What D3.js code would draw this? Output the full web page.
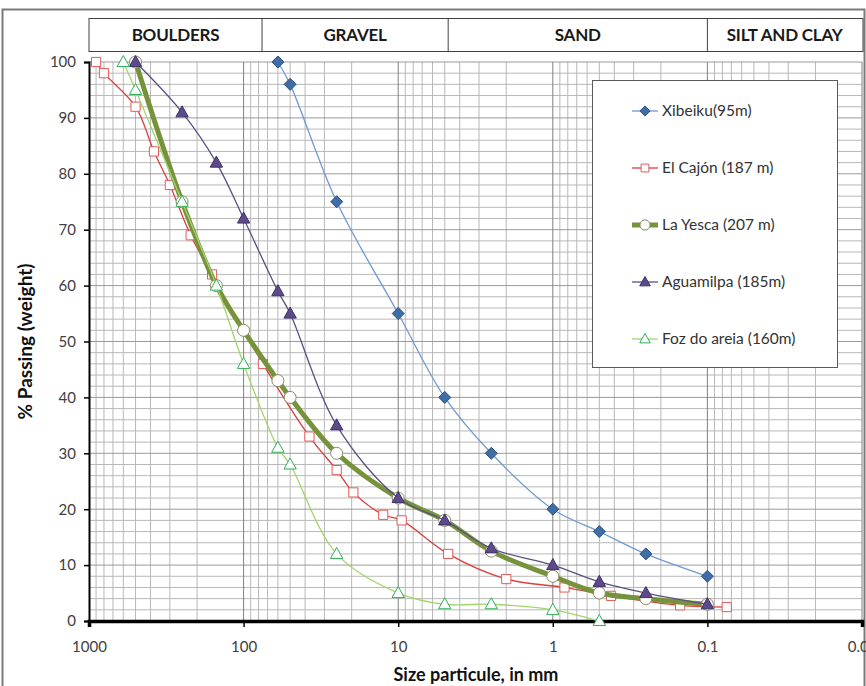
<!DOCTYPE html>
<html>
<head>
<meta charset="utf-8">
<script src="https://cdn.jsdelivr.net/npm/d3@7"></script>
<style>
body { margin:0; background:#fff; }
text { font-family: Lato, "Open Sans", sans-serif; }
</style>
</head>
<body>
<svg id="chart" width="866" height="686"></svg>
<script>
// grain size curves - % passing vs particle size (mm)
var xibeikuSize = [60, 50, 25, 10, 5, 2.5, 1, 0.5, 0.25, 0.1]
var xibeikuPass = [100, 96, 75, 55, 40, 30, 20, 16, 12, 8]

var cajonSize = [900, 800, 500, 380, 300, 220, 160, 75, 37.5, 25, 19.5, 12.5, 9.5, 4.75, 2, 0.84, 0.42, 0.15, 0.075]
var cajonPass = [100, 98, 92, 84, 78, 69, 62, 46, 33, 27, 23, 19, 18, 12, 7.5, 6, 4.5, 2.8, 2.5]

var yescaSize = [500, 250, 150, 100, 60, 50, 25, 10, 5, 2.5, 1, 0.5, 0.25, 0.1]
var yescaPass = [100, 75, 60, 52, 43, 40, 30, 22, 18, 12.5, 8, 5, 4, 3]

var aguaSize = [500, 250, 150, 100, 60, 50, 25, 10, 5, 2.5, 1, 0.5, 0.25, 0.1]
var aguaPass = [100, 91, 82, 72, 59, 55, 35, 22, 18, 13, 10, 7, 5, 3]

var fozSize = [600, 500, 250, 150, 100, 60, 50, 25, 10, 5, 2.5, 1, 0.5]
var fozPass = [100, 95, 75, 60, 46, 31, 28, 12, 5, 3, 3, 2, 0]

var seriesNames = ["Xibeiku(95m)", "El Cajón (187 m)", "La Yesca (207 m)", "Aguamilpa (185m)", "Foz do areia (160m)"]

var zoneNames = ["BOULDERS", "GRAVEL", "SAND", "SILT AND CLAY"]
var zoneBounds = [1000, 76, 4.75, 0.1, 0.01]

var xTickVals = [1000, 100, 10, 1, 0.1, 0.01]
var xTickLabels = ["1000", "100", "10", "1", "0.1", "0.01"]
var yTickVals = [0, 10, 20, 30, 40, 50, 60, 70, 80, 90, 100]

var svg = d3.select("#chart")
var margin = {top:62, left:89, bottom:65, right:4}
var width = 866, height = 686

var xScale = d3.scaleLog().domain([1000, 0.01]).range([margin.left, width - margin.right])
var yScale = d3.scaleLinear().domain([0, 100]).range([height - margin.bottom, margin.top])

function zip(a, b){
  var out = []
  for(var i=0;i<a.length;i++) out.push({size:a[i], pass:b[i]})
  return out
}

var series = [
  {name:seriesNames[0], data:zip(xibeikuSize, xibeikuPass), line:"#6f9bd1", lw:1.3, marker:"diamond", fill:"#3f6ea6", stroke:"#2d4f7a", r:6},
  {name:seriesNames[1], data:zip(cajonSize, cajonPass), line:"#d9403d", lw:1.3, marker:"square", fill:"#fff", stroke:"#e05a58", r:4.6},
  {name:seriesNames[2], data:zip(yescaSize, yescaPass), line:"#76933c", lw:5, marker:"circle", fill:"#fff", stroke:"#8a8a6a", r:6},
  {name:seriesNames[3], data:zip(aguaSize, aguaPass), line:"#5b4f80", lw:1.3, marker:"triangle", fill:"#5d4a8a", stroke:"#3e3166", r:6.5},
  {name:seriesNames[4], data:zip(fozSize, fozPass), line:"#a3d46c", lw:1.3, marker:"triangle", fill:"#fff", stroke:"#2fae55", r:6.5}
]

// outer frame
svg.append("rect")
  .attr("x", 2.5).attr("y", 9.5).attr("width", 862).attr("height", 690)
  .attr("fill", "none").attr("stroke", "#7a7a7a").attr("stroke-width", 2)

// grid
var g = svg.append("g")
var minorX = xScale.ticks().filter(function(d){ return xTickVals.indexOf(d) < 0 })
g.selectAll(".vminor").data(minorX).enter().append("line")
  .attr("x1", function(d){ return xScale(d) }).attr("x2", function(d){ return xScale(d) })
  .attr("y1", yScale(100)).attr("y2", yScale(0))
  .attr("stroke", "#b8b8b8").attr("stroke-width", 1)
var minorY = d3.range(2, 100, 2).filter(function(d){ return d % 10 != 0 })
g.selectAll(".hminor").data(minorY).enter().append("line")
  .attr("y1", function(d){ return yScale(d) }).attr("y2", function(d){ return yScale(d) })
  .attr("x1", xScale(1000)).attr("x2", xScale(0.01))
  .attr("stroke", "#b8b8b8").attr("stroke-width", 1)
g.selectAll(".hmajor").data(yTickVals.slice(1)).enter().append("line")
  .attr("y1", function(d){ return yScale(d) }).attr("y2", function(d){ return yScale(d) })
  .attr("x1", xScale(1000)).attr("x2", xScale(0.01))
  .attr("stroke", "#9a9a9a").attr("stroke-width", 1)
g.selectAll(".vmajor").data(xTickVals.slice(1)).enter().append("line")
  .attr("x1", function(d){ return xScale(d) }).attr("x2", function(d){ return xScale(d) })
  .attr("y1", yScale(100)).attr("y2", yScale(0))
  .attr("stroke", "#808080").attr("stroke-width", 1)

// header zones
var hdr = svg.append("g")
hdr.append("rect")
  .attr("x", xScale(1000)).attr("y", 18.5)
  .attr("width", xScale(0.01) - xScale(1000) + 1).attr("height", 33)
  .attr("fill", "#fff").attr("stroke", "#404040").attr("stroke-width", 1)
for(var i=0;i<zoneNames.length;i++){
  var x0 = xScale(zoneBounds[i]), x1 = xScale(zoneBounds[i+1])
  if(i>0){
    hdr.append("line").attr("x1", x0).attr("x2", x0).attr("y1", 18.5).attr("y2", 51.5)
      .attr("stroke", "#404040").attr("stroke-width", 1)
  }
  hdr.append("text")
    .attr("x", (x0+x1)/2).attr("y", 41)
    .attr("text-anchor", "middle")
    .attr("font-size", 17).attr("font-weight", "bold")
    .attr("letter-spacing", "-0.2")
    .attr("fill", "#1a1a1a")
    .text(zoneNames[i])
}

// axes
var yAxis = d3.axisLeft(yScale).tickValues(yTickVals).tickSize(5).tickPadding(8)
svg.append("g")
  .attr("transform", "translate(" + margin.left + ",0)")
  .call(yAxis)
  .call(function(s){
    s.select(".domain").attr("stroke", "#000").attr("stroke-width", 2)
    s.selectAll(".tick line").attr("stroke", "#000").attr("stroke-width", 1.5)
    s.selectAll(".tick text").attr("font-size", 15).attr("fill", "#404040").attr("font-family", "Lato, sans-serif")
  })

var xAxis = d3.axisBottom(xScale).tickValues(xTickVals)
  .tickFormat(function(d, i){ return xTickLabels[i] }).tickSize(6).tickPadding(14)
svg.append("g")
  .attr("transform", "translate(0," + (height - margin.bottom) + ")")
  .call(xAxis)
  .call(function(s){
    s.select(".domain").attr("stroke", "#000").attr("stroke-width", 3.5)
    s.selectAll(".tick line").attr("stroke", "#000").attr("stroke-width", 1.5)
    s.selectAll(".tick text").attr("font-size", 15).attr("fill", "#404040").attr("font-family", "Lato, sans-serif")
  })

svg.append("text")
  .attr("transform", "translate(32," + ((yScale(0)+yScale(100))/2) + ")rotate(-90)")
  .attr("text-anchor", "middle")
  .attr("font-size", 19).attr("font-weight", "bold").attr("fill", "#111")
  .text("% Passing (weight)")
svg.append("text")
  .attr("x", 476).attr("y", 681)
  .attr("text-anchor", "middle")
  .attr("font-size", 18).attr("font-weight", "bold").attr("fill", "#111")
  .text("Size particule, in mm")

// series
var line = d3.line()
  .x(function(d){ return xScale(d.size) })
  .y(function(d){ return yScale(d.pass) })
  .curve(d3.curveCatmullRom.alpha(0.5))

function markerPath(type, r){
  if(type == "diamond") return "M0," + (-r) + "L" + r + ",0L0," + r + "L" + (-r) + ",0Z"
  if(type == "square") return "M" + (-r) + "," + (-r) + "h" + (2*r) + "v" + (2*r) + "h" + (-2*r) + "Z"
  if(type == "triangle") return "M0," + (-r) + "L" + (r*0.95) + "," + (r*0.7) + "L" + (-r*0.95) + "," + (r*0.7) + "Z"
  return d3.symbol().type(d3.symbolCircle).size(Math.PI*r*r)()
}

var plot = svg.append("g")
series.forEach(function(s){
  plot.append("path")
    .datum(s.data)
    .attr("fill", "none")
    .attr("stroke", s.line)
    .attr("stroke-width", s.lw)
    .attr("stroke-linejoin", "round")
    .attr("d", line)
  plot.selectAll(null).data(s.data).enter().append("path")
    .attr("transform", function(d){ return "translate(" + xScale(d.size) + "," + yScale(d.pass) + ")" })
    .attr("d", markerPath(s.marker, s.r))
    .attr("fill", s.fill)
    .attr("stroke", s.stroke)
    .attr("stroke-width", 1)
})

// legend
var lg = svg.append("g")
lg.append("rect")
  .attr("x", 592.5).attr("y", 80.5).attr("width", 245).attr("height", 287)
  .attr("fill", "#fff").attr("stroke", "#5a5a5a").attr("stroke-width", 1)
series.forEach(function(s, i){
  var ly = 111 + i*57
  lg.append("line")
    .attr("x1", 632).attr("x2", 658).attr("y1", ly).attr("y2", ly)
    .attr("stroke", s.line).attr("stroke-width", s.lw)
  lg.append("path")
    .attr("transform", "translate(645," + ly + ")")
    .attr("d", markerPath(s.marker, s.r*0.85))
    .attr("fill", s.fill).attr("stroke", s.stroke)
  lg.append("text")
    .attr("x", 662).attr("y", ly + 5)
    .attr("font-size", 15.5).attr("fill", "#333")
    .text(s.name)
})
</script>
</body>
</html>
